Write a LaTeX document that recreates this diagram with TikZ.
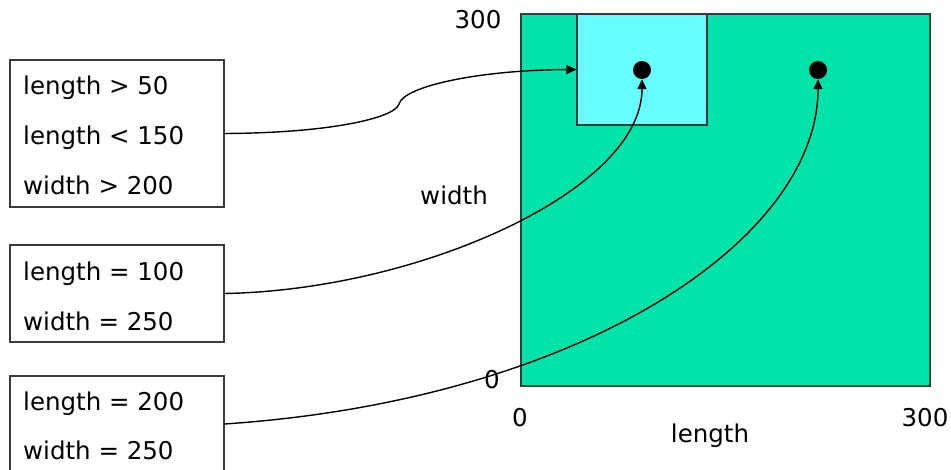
\documentclass[tikz,border=0pt]{standalone}
\usepackage{fontspec}
\setmainfont{DejaVu Sans}
\usetikzlibrary{arrows.meta}
\definecolor{bigfill}{HTML}{00E3A8}
\definecolor{smallfill}{HTML}{66FFFF}
\definecolor{edge}{HTML}{3A3A3A}
\begin{document}
\begin{tikzpicture}[x=1pt,y=-1pt,
  lbl/.style={font=\fontsize{24.5}{26}\selectfont, inner sep=0pt, anchor=base west},
  axl/.style={font=\fontsize{24.5}{26}\selectfont, inner sep=0pt},
  cbox/.style={draw=edge, line width=1.1pt, fill=white, inner sep=0pt},
  conn/.style={line width=1.4pt, -{Triangle[length=10pt,width=9pt]}},
  dot/.style={circle, fill=black, inner sep=0pt, minimum size=18pt}]
\useasboundingbox (0,0) rectangle (951,469);
\begin{scope}
\clip (0,0) rectangle (951,469);
% plot area
\node[draw=edge, line width=1.1pt, fill=bigfill, inner sep=0pt, minimum width=409pt, minimum height=372pt] (big) at (725.5,200) {};
\node[draw=edge, line width=1.1pt, fill=smallfill, inner sep=0pt, minimum width=130pt, minimum height=111pt] (q) at (642,69.5) {};
\node[dot] (d1) at (642,70) {};
\node[dot] (d2) at (818,70) {};
% axis labels
\node[axl] (t300) at (478,20) {300};
\node[axl] (tw) at (454,195) {width};
\node[axl] (y0) at (492,380) {0};
\node[axl] (x0) at (520,418) {0};
\node[axl] (x300) at (925,418) {300};
\node[axl] (tl) at (710,436) {length};
% condition boxes
\node[cbox, minimum width=214pt, minimum height=147pt] (b1) at (117,133.5) {};
\node[lbl] (b1a) at (23,94) {length > 50};
\node[lbl] (b1b) at (23,144) {length < 150};
\node[lbl] (b1c) at (23,194) {width > 200};
\node[cbox, minimum width=214pt, minimum height=97pt] (b2) at (117,293.5) {};
\node[lbl] (b2a) at (23,280) {length = 100};
\node[lbl] (b2b) at (23,330) {width = 250};
\node[cbox, minimum width=214pt, minimum height=104pt] (b3) at (117,428) {};
\node[lbl] (b3a) at (23,410) {length = 200};
\node[lbl] (b3b) at (23,459) {width = 250};
% connectors
\draw[conn] (b1.east) .. controls (330,133) and (395,118) .. (399,104)
   .. controls (404,86) and (480,70) .. (q.west);
\draw[conn] (b2.east) .. controls (420,290) and (642,190) .. (d1.south);
\draw[conn] (b3.east |- 0,424) .. controls (580,400) and (818,240) .. (d2.south);
\end{scope}
\end{tikzpicture}
\end{document}
